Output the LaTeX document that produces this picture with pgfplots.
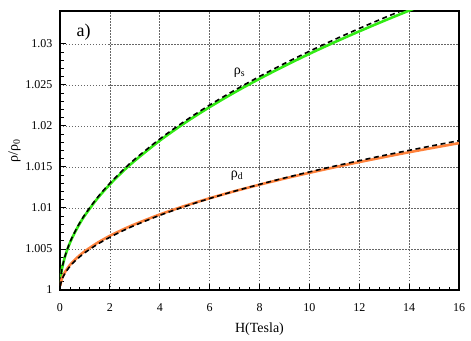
\documentclass[border=0pt]{standalone}
\usepackage{fontspec}
\setmainfont{Liberation Serif}
\usepackage{pgfplots}
\pgfplotsset{compat=1.18}

\definecolor{sgreen}{RGB}{50,235,20}
\definecolor{dorange}{RGB}{255,130,60}

\begin{document}
\begin{tikzpicture}
\begin{axis}[
    scale only axis,
    width=399pt, height=279pt,
    xmin=0, xmax=16, ymin=1, ymax=1.034,
    xtick={0,2,...,16},
    ytick={1,1.005,1.01,1.015,1.02,1.025,1.03},
    yticklabels={1,1.005,1.01,1.015,1.02,1.025,1.03},
    minor x tick num=4,
    minor y tick num=4,
    tick pos=left,
    tick align=inside,
    major tick length=6pt,
    minor tick length=3.5pt,
    tick style={black, line width=0.9pt},
    axis line style={line width=1.2pt},
    grid=major,
    major grid style={gray!80!black, line width=0.6pt, dash pattern=on 1.5pt off 1.5pt},
    ticklabel style={font=\fontsize{12}{14}\selectfont},
    /pgf/number format/assume math mode=true,
    yticklabel style={xshift=-4pt},
    xticklabel style={yshift=-10pt},
    xlabel={H(Tesla)},
    ylabel={ρ/ρ\textsubscript{0}},
    label style={font=\fontsize{14}{16}\selectfont},
    xlabel style={yshift=-4pt},
    ylabel style={yshift=-2pt},
]

% rho_s, solid
\addplot[sgreen, line width=2.6pt, smooth] coordinates {
    (0.01,1.00091) (0.05,1.00203) (0.1,1.00288) (0.2,1.00407) (0.35,1.00538)
    (0.5,1.00643) (0.75,1.00788) (1,1.0091) (1.5,1.01115) (2,1.01287)
    (2.5,1.01439) (3,1.01576) (4,1.0182) (5,1.02035) (6,1.02229)
    (7,1.02408) (8,1.02574) (9,1.0273) (10,1.02878) (11,1.03018)
    (12,1.03152) (13,1.03281) (14,1.03405) (14.5,1.03465)
};
% rho_s, fit
\addplot[black, line width=1.6pt, dash pattern=on 5pt off 3.5pt, smooth] coordinates {
    (0.01,1.00092) (0.05,1.00206) (0.1,1.00291) (0.2,1.00411) (0.35,1.00544)
    (0.5,1.00651) (0.75,1.00797) (1,1.0092) (1.5,1.01127) (2,1.01301)
    (2.5,1.01455) (3,1.01594) (4,1.0184) (5,1.02057) (6,1.02254)
    (7,1.02434) (8,1.02602) (9,1.0276) (10,1.02909) (11,1.03051)
    (12,1.03187) (13,1.03317) (14,1.03442)
};

% rho_d, solid
\addplot[dorange, line width=2.6pt, smooth] coordinates {
    (0.01,1.00052) (0.05,1.00112) (0.1,1.00157) (0.2,1.00218) (0.35,1.00286)
    (0.5,1.00339) (0.75,1.00412) (1,1.00473) (1.5,1.00575) (2,1.0066)
    (2.5,1.00734) (3,1.00801) (4,1.0092) (5,1.01024) (6,1.01118)
    (7,1.01204) (8,1.01283) (9,1.01358) (10,1.01428) (11,1.01495)
    (12,1.01559) (13,1.0162) (14,1.01679) (15,1.01735) (16,1.0179)
};
% rho_d, fit
\addplot[black, line width=1.6pt, dash pattern=on 5pt off 3.5pt, smooth] coordinates {
    (0.01,1.00046) (0.05,1.00102) (0.1,1.00144) (0.2,1.00203) (0.35,1.00269)
    (0.5,1.00322) (0.75,1.00394) (1,1.00455) (1.5,1.00557) (2,1.00643)
    (2.5,1.00719) (3,1.00788) (4,1.0091) (5,1.01017) (6,1.01115)
    (7,1.01204) (8,1.01287) (9,1.01365) (10,1.01439) (11,1.01509)
    (12,1.01576) (13,1.01641) (14,1.01702) (15,1.01762) (16,1.0182)
};

\node[font=\fontsize{14}{16}\selectfont] at (axis cs:7.2,1.0265) {ρ\textsubscript{s}};
\node[font=\fontsize{14}{16}\selectfont] at (axis cs:7.1,1.0139) {ρ\textsubscript{d}};
\node[font=\fontsize{18}{20}\selectfont] at (axis cs:0.95,1.0314) {a)};

\end{axis}
\path[use as bounding box] (current axis.south west) ++(-60pt,-50pt) rectangle ++(471pt,340pt);
\end{tikzpicture}
\end{document}
